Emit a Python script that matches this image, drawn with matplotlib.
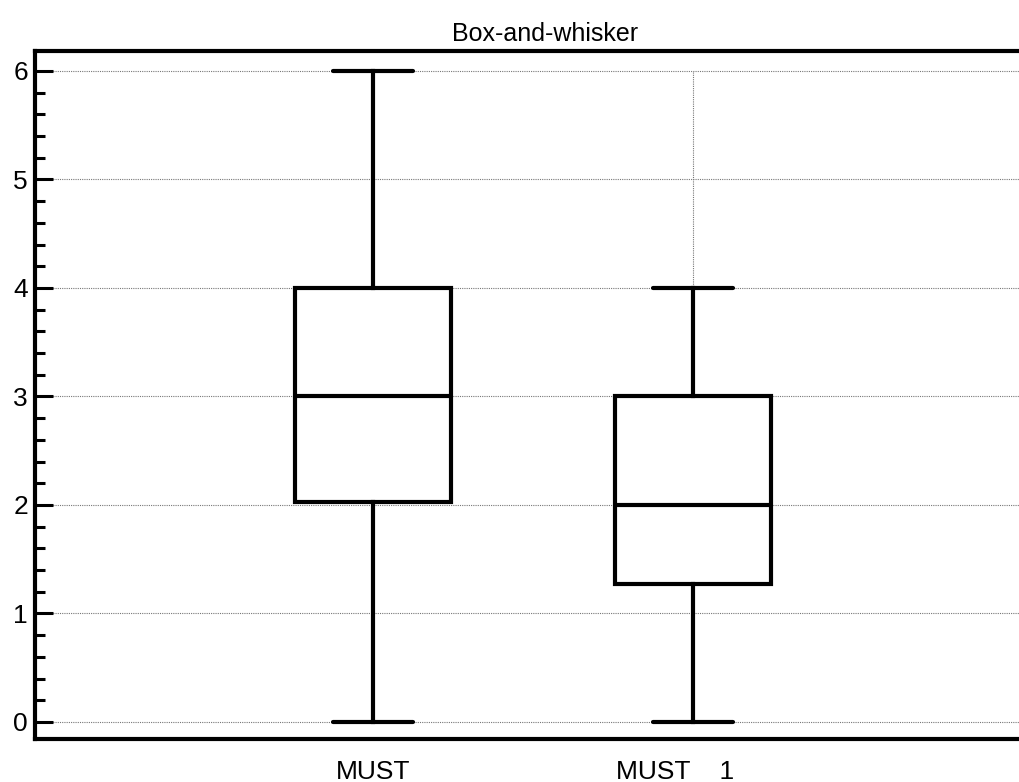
import matplotlib.pyplot as plt
from matplotlib.ticker import MultipleLocator

plt.rcParams['font.family'] = ['Liberation Sans', 'DejaVu Sans']

labels = ['MUST', 'MUST    1     ']
positions = [1, 2]
whislo = [0, 0]
q1 = [2.03, 1.27]
med = [3, 2]
q3 = [4, 3]
whishi = [6, 4]

stats = []
for i in range(len(labels)):
    stats.append({'label': labels[i], 'whislo': whislo[i], 'q1': q1[i],
                  'med': med[i], 'q3': q3[i], 'whishi': whishi[i], 'fliers': []})

fig = plt.figure(figsize=(10.2, 7.82), dpi=100)
# axes run on past the right edge of the picture
ax = fig.add_axes([0.0343, 0.055, 1.0, 0.8798])

lw = 3.0
ax.bxp(stats, positions=positions, widths=0.4875, showfliers=False, patch_artist=True,
       boxprops=dict(facecolor='white', edgecolor='black', linewidth=lw),
       whiskerprops=dict(color='black', linewidth=lw),
       capprops=dict(color='black', linewidth=lw, solid_capstyle='round'),
       medianprops=dict(color='black', linewidth=lw),
       capwidths=0.25, zorder=3)

# vertical dotted grid lines only over the data range
ax.vlines(positions, 0, 6, colors='#777777', linestyles=(0, (1, 1)), linewidth=0.8, zorder=1)

ax.set_xlim(-0.056, 3.131)
ax.set_ylim(-0.157, 6.184)
ax.yaxis.set_major_locator(MultipleLocator(1))
ax.yaxis.set_minor_locator(MultipleLocator(0.2))
ax.grid(axis='y', which='major', color='#777777', linestyle=(0, (1, 1)), linewidth=0.8, zorder=1)
ax.set_axisbelow(True)

ax.tick_params(axis='y', which='major', direction='in', length=13, width=2.2, labelsize=19, pad=5)
ax.tick_params(axis='y', which='minor', direction='in', length=7, width=2.2)
ax.tick_params(axis='x', length=0, labelsize=19, pad=15)

for side in ['left', 'top', 'bottom']:
    ax.spines[side].set_linewidth(3.0)
ax.spines['right'].set_visible(False)

ax.set_title('Box-and-whisker', fontsize=18, pad=7)

plt.savefig('out.png', dpi=100)
